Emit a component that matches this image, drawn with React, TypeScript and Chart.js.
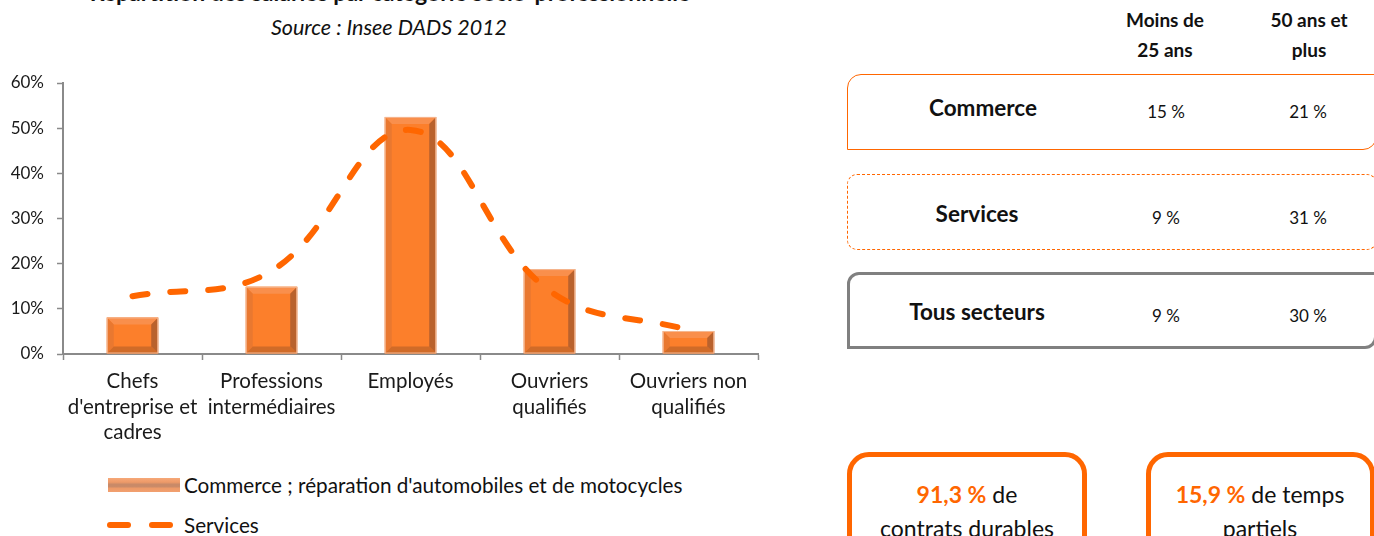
import React, { useEffect, useRef } from "react";
import { Chart, registerables } from "chart.js";

Chart.register(...registerables);

// ---------- data ----------
const categories: string[][] = [
  ["Chefs", "d'entreprise et", "cadres"],
  ["Professions", "intermédiaires"],
  ["Employés"],
  ["Ouvriers", "qualifiés"],
  ["Ouvriers non", "qualifiés"],
];
const commerceValues = [8.1, 14.9, 52.5, 18.8, 5.1];
const servicesValues = [12.8, 18.4, 49.6, 14.0, 5.3];
const yTickMax = 60;
const yTickStep = 10;
const seriesNames = ["Commerce ; réparation d'automobiles et de motocycles", "Services"];

const chartTitle = "Répartition des salariés par catégorie socio-professionnelle";
const chartSubtitle = "Source : Insee DADS 2012";

const tableColumns = [["Moins de", "25 ans"], ["50 ans et", "plus"]];
const tableRows = ["Commerce", "Services", "Tous secteurs"];
const under25 = ["15 %", "9 %", "9 %"];
const over50 = ["21 %", "31 %", "30 %"];

const kpiValues = ["91,3 %", "15,9 %"];
const kpiLine1 = [" de", " de temps"];
const kpiLine2 = ["contrats durables", "partiels"];

const ORANGE = "#FF6600";
const FONT = "Lato, 'Open Sans', sans-serif";

// ---------- bevel plugin for bars ----------
const bevelPlugin = {
  id: "bevel",
  afterDatasetDraw(chart: any, args: any) {
    if (args.index !== 0) return;
    const ctx: CanvasRenderingContext2D = chart.ctx;
    const meta = chart.getDatasetMeta(0);
    meta.data.forEach((bar: any) => {
      const p = bar.getProps(["x", "y", "base", "width"], true);
      const l = p.x - p.width / 2;
      const r = p.x + p.width / 2;
      const t = Math.min(p.y, p.base);
      const b = Math.max(p.y, p.base);
      const bv = Math.min(7, (b - t) / 2, p.width / 2);
      const poly = (pts: number[][], color: string) => {
        ctx.beginPath();
        ctx.moveTo(pts[0][0], pts[0][1]);
        for (let i = 1; i < pts.length; i++) ctx.lineTo(pts[i][0], pts[i][1]);
        ctx.closePath();
        ctx.fillStyle = color;
        ctx.fill();
      };
      ctx.save();
      poly([[l, t], [r, t], [r - bv, t + bv], [l + bv, t + bv]], "#F98F4C");
      poly([[l, t], [l + bv, t + bv], [l + bv, b - bv], [l, b]], "#E97830");
      poly([[r, t], [r, b], [r - bv, b - bv], [r - bv, t + bv]], "#B9622D");
      poly([[l, b], [r, b], [r - bv, b - bv], [l + bv, b - bv]], "#D06B28");
      ctx.strokeStyle = "#F5B893";
      ctx.lineWidth = 1;
      ctx.strokeRect(l + 0.5, t + 0.5, r - l - 1, b - t - 1);
      ctx.restore();
    });
  },
};

function BarChart() {
  const ref = useRef<HTMLCanvasElement | null>(null);
  useEffect(() => {
    if (!ref.current) return;
    const chart = new Chart(ref.current, {
      type: "bar",
      data: {
        labels: categories as any,
        datasets: [
          {
            type: "bar",
            label: seriesNames[0],
            data: commerceValues,
            backgroundColor: "#FC7F2B",
            borderWidth: 0,
            barPercentage: 0.37,
            categoryPercentage: 1,
            order: 2,
          } as any,
          {
            type: "line",
            label: seriesNames[1],
            data: servicesValues,
            borderColor: ORANGE,
            borderWidth: 6,
            borderDash: [15, 23],
            borderCapStyle: "round",
            tension: 0.4,
            pointRadius: 0,
            fill: false,
            order: 1,
          } as any,
        ],
      },
      options: {
        responsive: false,
        animation: false,
        events: [],
        layout: { padding: { top: 83, right: 12, bottom: 0, left: 0 } },
        plugins: {
          legend: { display: false },
          tooltip: { enabled: false },
          title: { display: false },
        },
        scales: {
          x: {
            offset: true,
            afterFit: (s: any) => {
              s.height = 96;
            },
            grid: {
              offset: true,
              drawOnChartArea: false,
              drawTicks: true,
              tickLength: 6,
              tickColor: "#8A8A8A",
              tickWidth: 1.5,
            },
            border: { display: true, color: "#8A8A8A", width: 2 },
            ticks: {
              autoSkip: false,
              maxRotation: 0,
              minRotation: 0,
              padding: 9,
              color: "#1A1A1A",
              font: { family: FONT, size: 20.5, lineHeight: 1.245 },
            },
          },
          y: {
            min: 0,
            max: yTickMax,
            afterFit: (s: any) => {
              s.width = 63;
            },
            grid: {
              drawOnChartArea: false,
              drawTicks: true,
              tickLength: 6,
              tickColor: "#8A8A8A",
              tickWidth: 1.5,
            },
            border: { display: true, color: "#8A8A8A", width: 2 },
            ticks: {
              stepSize: yTickStep,
              padding: 13,
              color: "#1A1A1A",
              font: { family: FONT, size: 17 },
              callback: (v: any) => `${v}%`,
            },
          },
        },
      },
      plugins: [bevelPlugin],
    });
    return () => chart.destroy();
  }, []);
  return (
    <canvas
      ref={ref}
      width={770}
      height={450}
      style={{ position: "absolute", left: 0, top: 0, width: 770, height: 450 }}
    />
  );
}

function Txt(props: { x: number; y: number; children: React.ReactNode; style?: React.CSSProperties; align?: "center" | "left" }) {
  const left = props.align === "left";
  return (
    <div
      style={{
        position: "absolute",
        left: props.x,
        top: props.y,
        transform: left ? "translate(0,-50%)" : "translate(-50%,-50%)",
        whiteSpace: "nowrap",
        lineHeight: 1,
        ...props.style,
      }}
    >
      {props.children}
    </div>
  );
}

export default function App() {
  const rowY = [108, 214, 312];
  const boxes = [
    { top: 74, height: 76, border: `1.5px solid ${ORANGE}`, radius: "14px 0 14px 0" },
    { top: 174, height: 76, border: `1.5px dashed ${ORANGE}`, radius: "10px" },
    { top: 272, height: 77, border: "3px solid #808080", radius: "12px 0 12px 0" },
  ];
  return (
    <div
      style={{
        position: "fixed",
        left: 0,
        top: 0,
        width: 1374,
        height: 536,
        overflow: "hidden",
        background: "#fff",
        fontFamily: FONT,
        color: "#111",
      }}
    >
      {/* titles */}
      <Txt x={390} y={-8} style={{ fontWeight: 700, fontSize: 23 }}>{chartTitle}</Txt>
      <Txt x={389} y={28} style={{ fontStyle: "italic", fontSize: 21.5 }}>{chartSubtitle}</Txt>

      <BarChart />

      {/* legend */}
      <div
        style={{
          position: "absolute",
          left: 108,
          top: 478,
          width: 72,
          height: 14,
          background: "linear-gradient(#F6A878 0%, #EE9A68 30%, #C98A68 45%, #C98A68 60%, #EE9A68 75%, #F2A070 100%)",
        }}
      />
      <Txt x={184} y={485} align="left" style={{ fontSize: 20.7 }}>{seriesNames[0]}</Txt>
      <div style={{ position: "absolute", left: 107, top: 522, width: 24, height: 6, borderRadius: 3, background: ORANGE }} />
      <div style={{ position: "absolute", left: 149, top: 522, width: 24, height: 6, borderRadius: 3, background: ORANGE }} />
      <Txt x={184} y={525} align="left" style={{ fontSize: 20.7 }}>{seriesNames[1]}</Txt>

      {/* table header */}
      {tableColumns.map((col, i) => (
        <React.Fragment key={"h" + i}>
          <Txt x={i === 0 ? 1165 : 1309} y={19} style={{ fontWeight: 700, fontSize: 19 }}>{col[0]}</Txt>
          <Txt x={i === 0 ? 1165 : 1309} y={49} style={{ fontWeight: 700, fontSize: 19 }}>{col[1]}</Txt>
        </React.Fragment>
      ))}

      {/* table rows */}
      {boxes.map((b, i) => (
        <div
          key={"b" + i}
          style={{
            position: "absolute",
            left: 847,
            top: b.top,
            width: 530,
            height: b.height,
            border: b.border,
            borderRadius: b.radius,
            boxSizing: "border-box",
          }}
        />
      ))}
      {tableRows.map((row, i) => (
        <React.Fragment key={"r" + i}>
          <Txt x={i === 0 ? 983 : 977} y={rowY[i]} style={{ fontWeight: 700, fontSize: 22.5 }}>{row}</Txt>
          <Txt x={1166} y={rowY[i] + 3} style={{ fontSize: 17 }}>{under25[i]}</Txt>
          <Txt x={1308} y={rowY[i] + 3} style={{ fontSize: 17 }}>{over50[i]}</Txt>
        </React.Fragment>
      ))}

      {/* KPI boxes */}
      {[0, 1].map((i) => (
        <React.Fragment key={"k" + i}>
          <div
            style={{
              position: "absolute",
              left: i === 0 ? 847 : 1146,
              top: 452,
              width: i === 0 ? 240 : 229,
              height: 140,
              border: `5px solid ${ORANGE}`,
              borderRadius: 22,
              boxSizing: "border-box",
            }}
          />
          <Txt x={i === 0 ? 967 : 1260} y={494} style={{ fontSize: 23 }}>
            <span style={{ color: ORANGE, fontWeight: 700 }}>{kpiValues[i]}</span>
            {kpiLine1[i]}
          </Txt>
          <Txt x={i === 0 ? 967 : 1260} y={528} style={{ fontSize: 23 }}>{kpiLine2[i]}</Txt>
        </React.Fragment>
      ))}
    </div>
  );
}
